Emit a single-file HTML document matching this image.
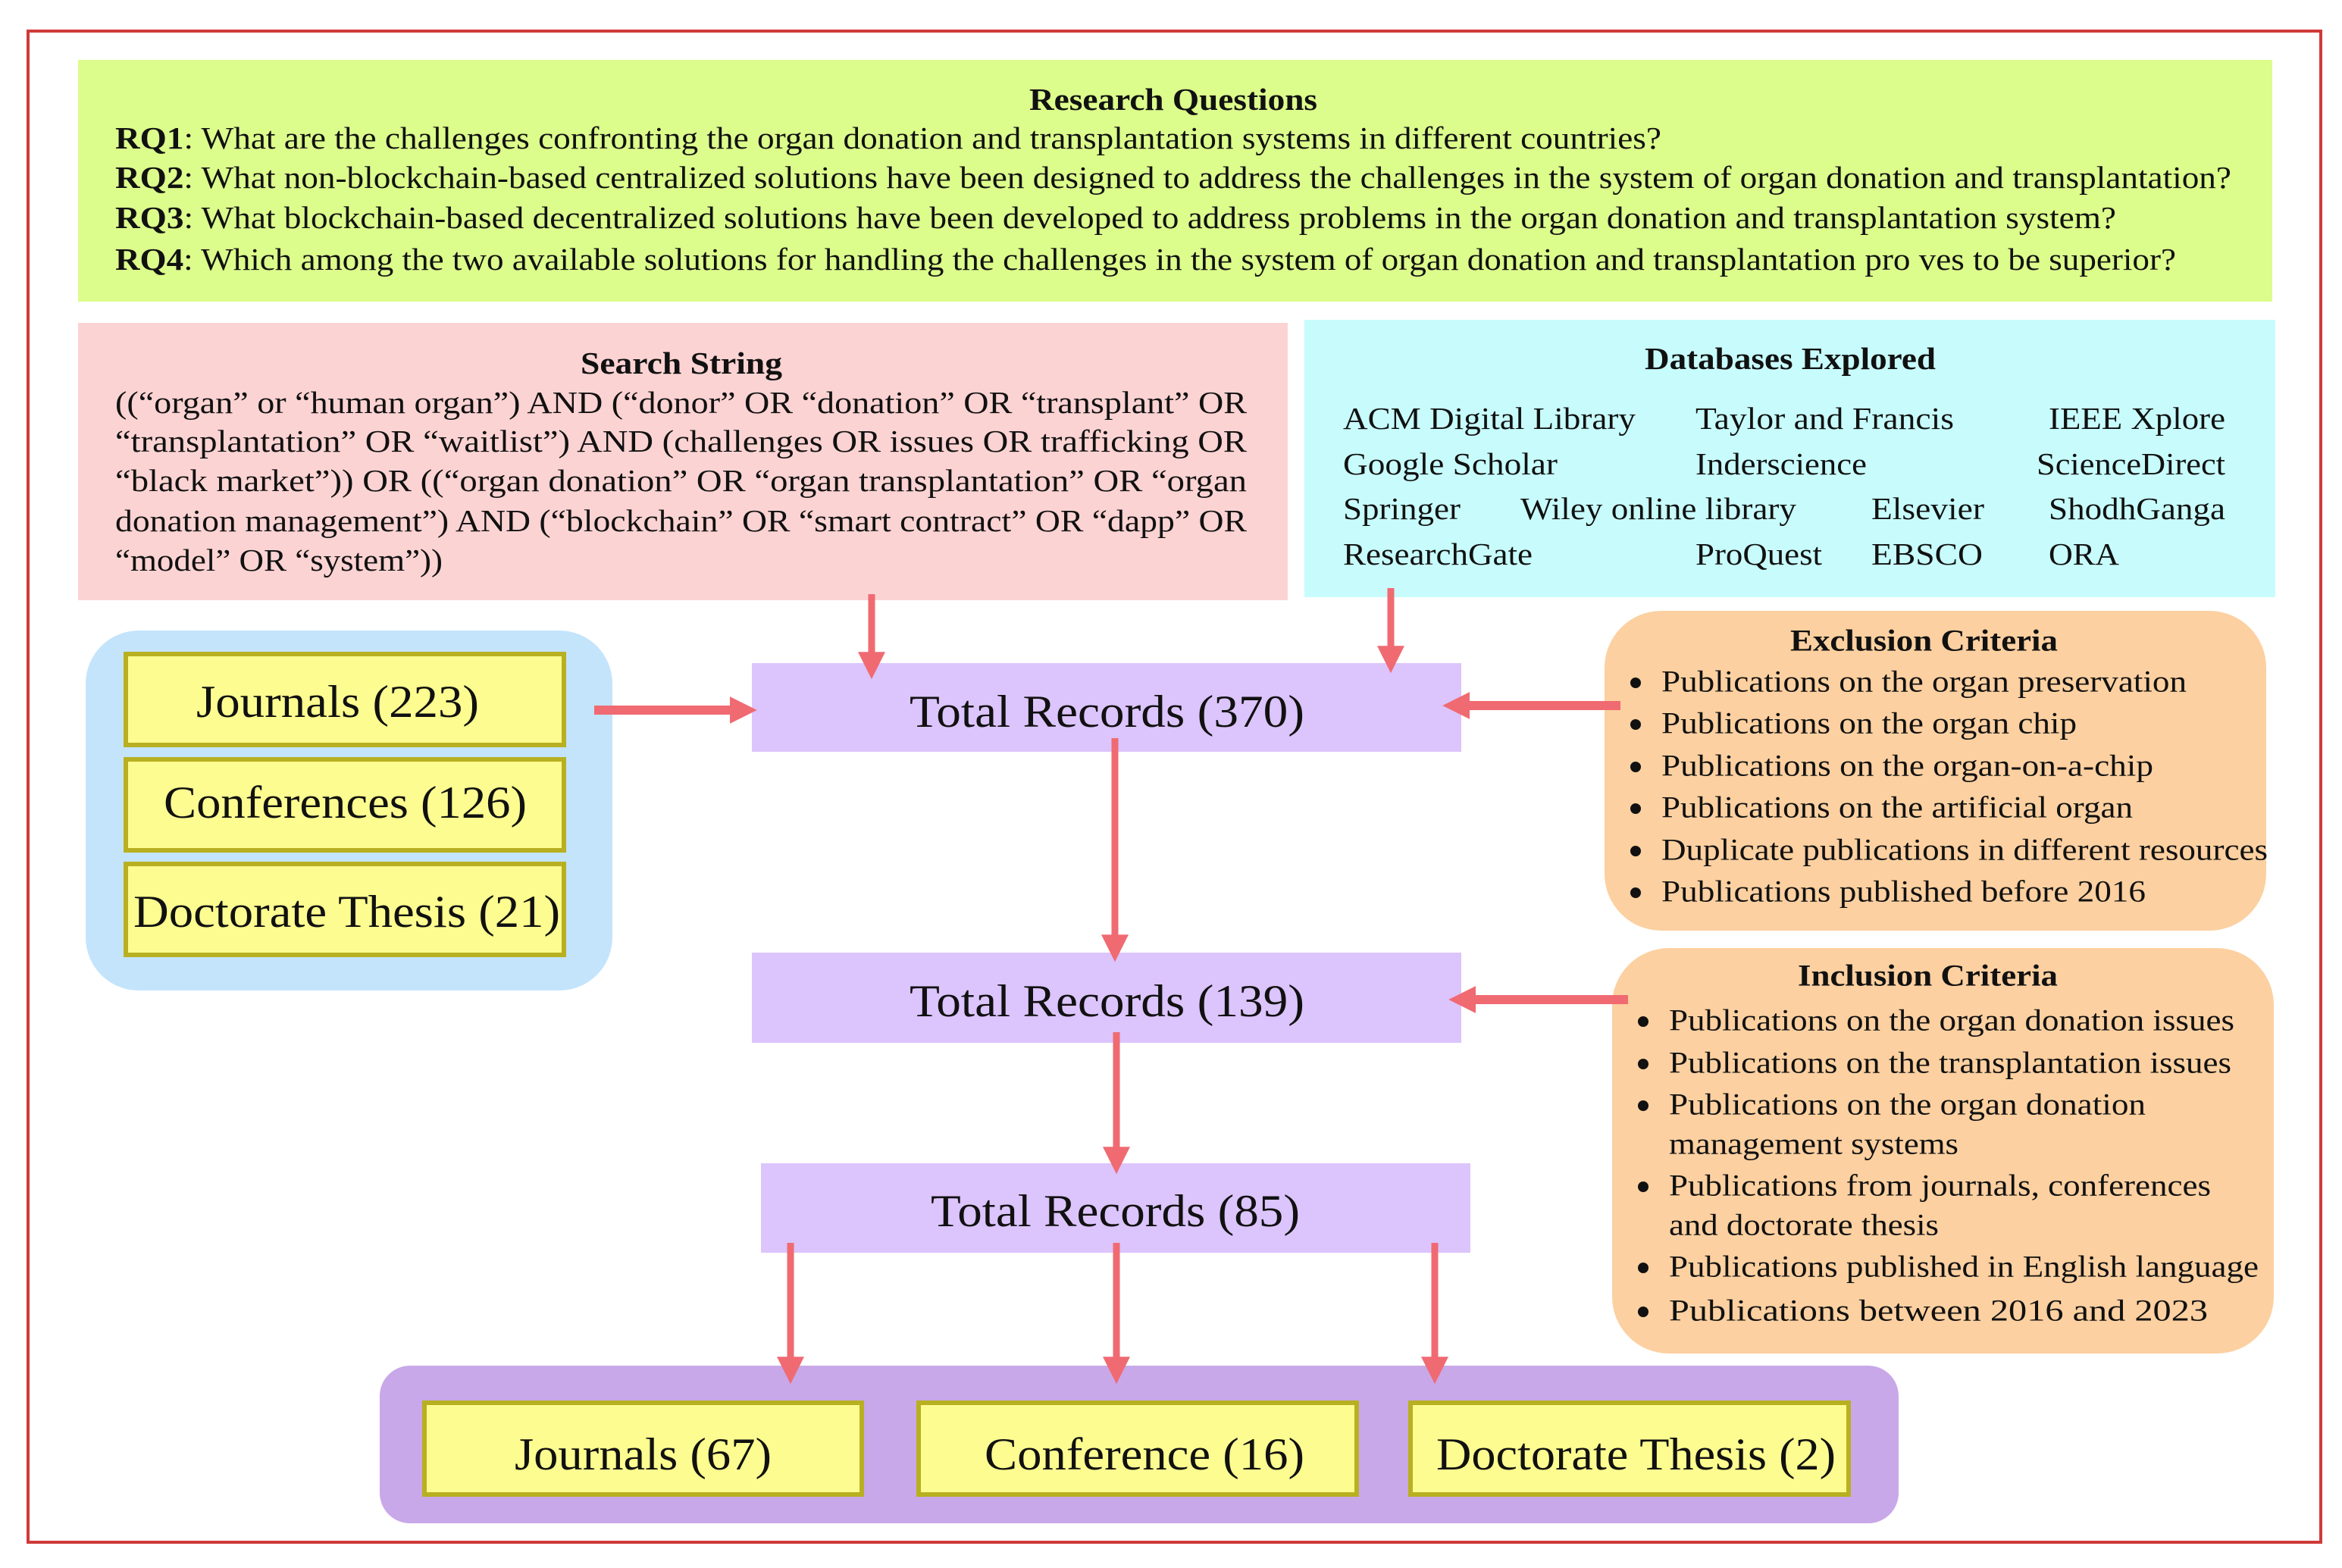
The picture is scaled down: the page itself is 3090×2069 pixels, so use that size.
<!DOCTYPE html>
<html><head><meta charset="utf-8"><style>html,body{margin:0;padding:0;background:#fff}svg{display:block}
svg text{font-family:"Liberation Serif","Times New Roman",serif}</style></head>
<body>
<svg width="3090" height="2069" viewBox="0 0 3090 2069" xmlns="http://www.w3.org/2000/svg" fill="#111">
<defs>
<marker id="ah" markerWidth="4" markerHeight="4" refX="2.2" refY="2" orient="auto" markerUnits="strokeWidth"><path d="M0,0 L4,2 L0,4 Z" fill="#f06a72"/></marker>
<marker id="ah2" markerWidth="3" markerHeight="3" refX="1.6" refY="1.5" orient="auto" markerUnits="strokeWidth"><path d="M0,0 L3,1.5 L0,3 Z" fill="#f06a72"/></marker>
</defs>
<rect x="0" y="0" width="3090" height="2069" fill="#fff"/>
<rect x="37" y="41" width="3025" height="1994" fill="none" stroke="#d03a3a" stroke-width="4"/>

<rect x="103" y="79" width="2895" height="319" fill="#dcfc8c"/>
<g font-size="41" dominant-baseline="central">
<text x="1358" y="131" font-weight="bold" textLength="380" lengthAdjust="spacingAndGlyphs">Research Questions</text>
<text x="152" y="182" textLength="2040" lengthAdjust="spacingAndGlyphs"><tspan font-weight="bold">RQ1</tspan>: What are the challenges confronting the organ donation and transplantation systems in different countries?</text>
<text x="152" y="234" textLength="2792" lengthAdjust="spacingAndGlyphs"><tspan font-weight="bold">RQ2</tspan>: What non-blockchain-based centralized solutions have been designed to address the challenges in the system of organ donation and transplantation?</text>
<text x="152" y="287" textLength="2640" lengthAdjust="spacingAndGlyphs"><tspan font-weight="bold">RQ3</tspan>: What blockchain-based decentralized solutions have been developed to address problems in the organ donation and transplantation system?</text>
<text x="152" y="342" textLength="2719" lengthAdjust="spacingAndGlyphs"><tspan font-weight="bold">RQ4</tspan>: Which among the two available solutions for handling the challenges in the system of organ donation and transplantation pro ves to be superior?</text>
</g>

<rect x="103" y="426" width="1596" height="366" fill="#fcd3d3"/>
<g font-size="41" dominant-baseline="central">
<text x="766" y="479" font-weight="bold" textLength="266" lengthAdjust="spacingAndGlyphs">Search String</text>
<text x="152" y="531" textLength="1493" lengthAdjust="spacingAndGlyphs">((“organ” or “human organ”) AND (“donor” OR “donation” OR “transplant” OR</text>
<text x="152" y="582" textLength="1493" lengthAdjust="spacingAndGlyphs">“transplantation” OR “waitlist”) AND (challenges OR issues OR trafficking OR</text>
<text x="152" y="634" textLength="1493" lengthAdjust="spacingAndGlyphs">“black market”)) OR ((“organ donation” OR “organ transplantation” OR “organ</text>
<text x="152" y="687" textLength="1493" lengthAdjust="spacingAndGlyphs">donation management”) AND (“blockchain” OR “smart contract” OR “dapp” OR</text>
<text x="152" y="739" textLength="432" lengthAdjust="spacingAndGlyphs">“model” OR “system”))</text>
</g>

<rect x="1721" y="422" width="1281" height="366" fill="#c8fcfc"/>
<g font-size="41" dominant-baseline="central">
<text x="2170" y="473" font-weight="bold" textLength="384" lengthAdjust="spacingAndGlyphs">Databases Explored</text>
<text x="1772" y="552" textLength="386" lengthAdjust="spacingAndGlyphs">ACM Digital Library</text>
<text x="2237" y="552" textLength="341" lengthAdjust="spacingAndGlyphs">Taylor and Francis</text>
<text x="2703" y="552" textLength="233" lengthAdjust="spacingAndGlyphs">IEEE Xplore</text>
<text x="1772" y="612" textLength="283" lengthAdjust="spacingAndGlyphs">Google Scholar</text>
<text x="2237" y="612" textLength="226" lengthAdjust="spacingAndGlyphs">Inderscience</text>
<text x="2687" y="612" textLength="249" lengthAdjust="spacingAndGlyphs">ScienceDirect</text>
<text x="1772" y="671" textLength="155" lengthAdjust="spacingAndGlyphs">Springer</text>
<text x="2006" y="671" textLength="364" lengthAdjust="spacingAndGlyphs">Wiley online library</text>
<text x="2469" y="671" textLength="149" lengthAdjust="spacingAndGlyphs">Elsevier</text>
<text x="2703" y="671" textLength="233" lengthAdjust="spacingAndGlyphs">ShodhGanga</text>
<text x="1772" y="731" textLength="250" lengthAdjust="spacingAndGlyphs">ResearchGate</text>
<text x="2237" y="731" textLength="167" lengthAdjust="spacingAndGlyphs">ProQuest</text>
<text x="2469" y="731" textLength="147" lengthAdjust="spacingAndGlyphs">EBSCO</text>
<text x="2703" y="731" textLength="93" lengthAdjust="spacingAndGlyphs">ORA</text>
</g>

<rect x="113" y="832" width="695" height="475" rx="70" fill="#c4e4fc"/>
<g fill="#fcfc90" stroke="#b8b020" stroke-width="6">
<rect x="166" y="863" width="578" height="120"/>
<rect x="166" y="1002" width="578" height="120"/>
<rect x="166" y="1140" width="578" height="120"/>
</g>
<g font-size="60" dominant-baseline="central">
<text x="259" y="926" textLength="373" lengthAdjust="spacingAndGlyphs">Journals (223)</text>
<text x="216" y="1059" textLength="479" lengthAdjust="spacingAndGlyphs">Conferences (126)</text>
<text x="176" y="1203" textLength="563" lengthAdjust="spacingAndGlyphs">Doctorate Thesis (21)</text>
</g>

<rect x="992" y="875" width="936" height="117" fill="#dcc4fc"/>
<rect x="992" y="1257" width="936" height="119" fill="#dcc4fc"/>
<rect x="1004" y="1535" width="936" height="118" fill="#dcc4fc"/>
<g font-size="60" dominant-baseline="central">
<text x="1200" y="939" textLength="521" lengthAdjust="spacingAndGlyphs">Total Records (370)</text>
<text x="1200" y="1321" textLength="521" lengthAdjust="spacingAndGlyphs">Total Records (139)</text>
<text x="1228" y="1598" textLength="487" lengthAdjust="spacingAndGlyphs">Total Records (85)</text>
</g>

<rect x="2117" y="806" width="873" height="422" rx="75" fill="#fcd0a0"/>
<g font-size="40" dominant-baseline="central">
<text x="2362" y="845" font-weight="bold" textLength="353" lengthAdjust="spacingAndGlyphs">Exclusion Criteria</text>
<text x="2192" y="899" textLength="693" lengthAdjust="spacingAndGlyphs">Publications on the organ preservation</text>
<text x="2192" y="954" textLength="548" lengthAdjust="spacingAndGlyphs">Publications on the organ chip</text>
<text x="2192" y="1010" textLength="649" lengthAdjust="spacingAndGlyphs">Publications on the organ-on-a-chip</text>
<text x="2192" y="1065" textLength="622" lengthAdjust="spacingAndGlyphs">Publications on the artificial organ</text>
<text x="2192" y="1121" textLength="800" lengthAdjust="spacingAndGlyphs">Duplicate publications in different resources</text>
<text x="2192" y="1176" textLength="639" lengthAdjust="spacingAndGlyphs">Publications published before 2016</text>
</g>
<g fill="#111">
<circle cx="2158" cy="901" r="7"/><circle cx="2158" cy="956" r="7"/><circle cx="2158" cy="1012" r="7"/>
<circle cx="2158" cy="1067" r="7"/><circle cx="2158" cy="1123" r="7"/><circle cx="2158" cy="1178" r="7"/>
</g>

<rect x="2127" y="1251" width="873" height="535" rx="75" fill="#fcd0a0"/>
<g font-size="40" dominant-baseline="central">
<text x="2372" y="1287" font-weight="bold" textLength="343" lengthAdjust="spacingAndGlyphs">Inclusion Criteria</text>
<text x="2202" y="1346" textLength="746" lengthAdjust="spacingAndGlyphs">Publications on the organ donation issues</text>
<text x="2202" y="1402" textLength="742" lengthAdjust="spacingAndGlyphs">Publications on the transplantation issues</text>
<text x="2202" y="1457" textLength="629" lengthAdjust="spacingAndGlyphs">Publications on the organ donation</text>
<text x="2202" y="1509" textLength="382" lengthAdjust="spacingAndGlyphs">management systems</text>
<text x="2202" y="1564" textLength="715" lengthAdjust="spacingAndGlyphs">Publications from journals, conferences</text>
<text x="2202" y="1616" textLength="356" lengthAdjust="spacingAndGlyphs">and doctorate thesis</text>
<text x="2202" y="1671" textLength="778" lengthAdjust="spacingAndGlyphs">Publications published in English language</text>
<text x="2202" y="1729" textLength="711" lengthAdjust="spacingAndGlyphs">Publications between 2016 and 2023</text>
</g>
<g fill="#111">
<circle cx="2168" cy="1348" r="7"/><circle cx="2168" cy="1404" r="7"/><circle cx="2168" cy="1459" r="7"/>
<circle cx="2168" cy="1566" r="7"/><circle cx="2168" cy="1673" r="7"/><circle cx="2168" cy="1731" r="7"/>
</g>

<rect x="501" y="1802" width="2004" height="208" rx="40" fill="#c8a8e8"/>
<g fill="#fcfc90" stroke="#b8b020" stroke-width="6">
<rect x="560" y="1851" width="577" height="121"/>
<rect x="1212" y="1851" width="578" height="121"/>
<rect x="1861" y="1851" width="578" height="121"/>
</g>
<g font-size="60" dominant-baseline="central">
<text x="679" y="1919" textLength="339" lengthAdjust="spacingAndGlyphs">Journals (67)</text>
<text x="1299" y="1919" textLength="422" lengthAdjust="spacingAndGlyphs">Conference (16)</text>
<text x="1895" y="1919" textLength="527" lengthAdjust="spacingAndGlyphs">Doctorate Thesis (2)</text>
</g>

<g stroke="#f06a72" fill="none">
<line x1="1150" y1="784" x2="1150" y2="880" stroke-width="9" marker-end="url(#ah)"/>
<line x1="1835" y1="776" x2="1835" y2="872" stroke-width="9" marker-end="url(#ah)"/>
<line x1="784" y1="937" x2="982" y2="937" stroke-width="12" marker-end="url(#ah2)"/>
<line x1="2138" y1="931" x2="1920" y2="931" stroke-width="12" marker-end="url(#ah2)"/>
<line x1="2148" y1="1319" x2="1928" y2="1319" stroke-width="12" marker-end="url(#ah2)"/>
<line x1="1471" y1="974" x2="1471" y2="1253" stroke-width="9" marker-end="url(#ah)"/>
<line x1="1473" y1="1362" x2="1473" y2="1533" stroke-width="9" marker-end="url(#ah)"/>
<line x1="1043" y1="1640" x2="1043" y2="1810" stroke-width="9" marker-end="url(#ah)"/>
<line x1="1473" y1="1640" x2="1473" y2="1810" stroke-width="9" marker-end="url(#ah)"/>
<line x1="1893" y1="1640" x2="1893" y2="1810" stroke-width="9" marker-end="url(#ah)"/>
</g>
</svg>
</body></html>
